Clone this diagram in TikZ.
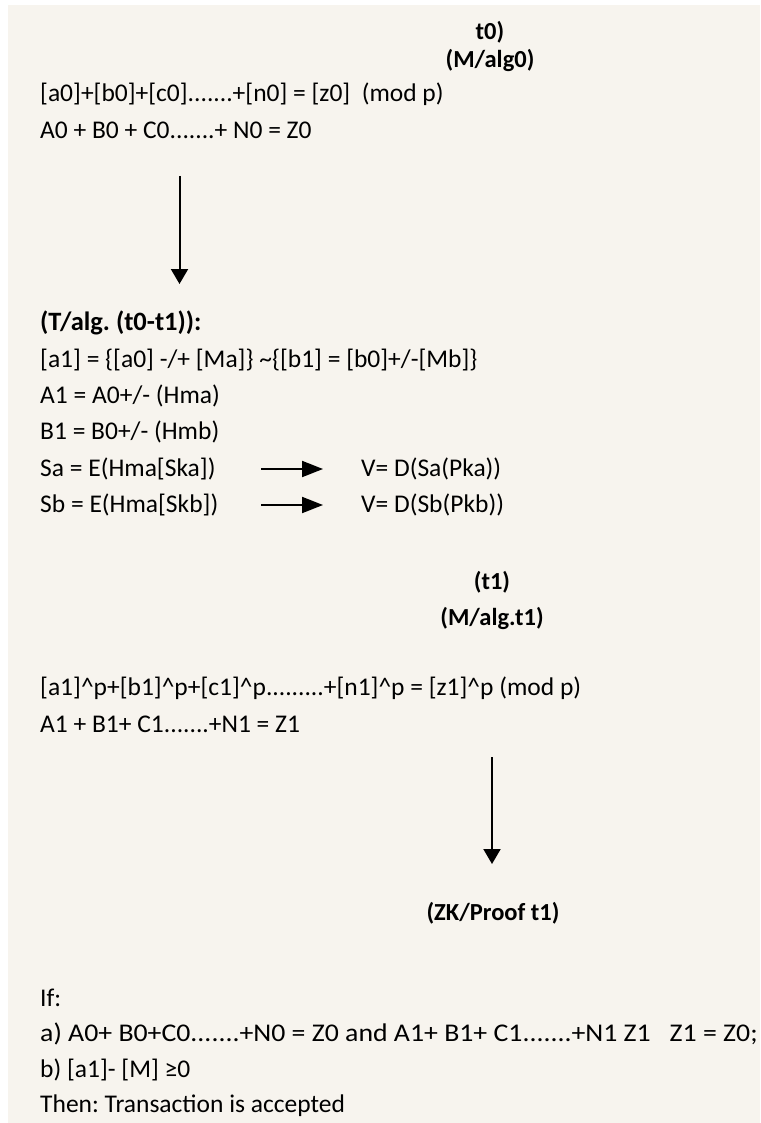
\documentclass[tikz,border=0pt]{standalone}
\usepackage{fontspec}
\setmainfont{Carlito}
\usetikzlibrary{arrows.meta}
\definecolor{cream}{HTML}{F7F4EE}
\frenchspacing
\begin{document}
\begin{tikzpicture}[x=1pt,y=-1pt,
  txt/.style={anchor=west,inner sep=0pt,font=\fontsize{25.5}{28}\selectfont},
  ttl/.style={inner sep=0pt,font=\fontsize{24.5}{28}\selectfont\bfseries},
  vline/.style={line width=2pt,-{Triangle[length=15pt,width=17pt]}},
  hline/.style={line width=2pt,-{Triangle[length=21pt,width=16pt]}}]
\useasboundingbox (0,0) rectangle (760,1123);
\fill[white] (0,0) rectangle (760,1123);
\fill[cream] (8,5) rectangle (760,1123);
% t0 block
\node[ttl] (t0) at (490,32) {t0)};
\node[ttl] (malg0) at (490,60) {(M/alg0)};
\node[txt] (eq0) at (40,94) {[a0]+[b0]+[c0].......+[n0] = [z0]\ \ (mod p)};
\node[txt] (sum0) at (40,130) {A0 + B0 + C0.......+ N0 = Z0};
\coordinate (a1s) at (179.5,176);
\coordinate (a1e) at (179.5,284);
\draw[vline] (a1s) -- (a1e);
% T block
\node[txt,font=\fontsize{26.5}{30}\selectfont\bfseries] (talg) at (40,323) {(T/alg. (t0-t1)):};
\node[txt] (a1) at (40,360) {[a1] = \{[a0] -/+ [Ma]\} \textasciitilde\{[b1] = [b0]+/-[Mb]\}};
\node[txt] (A1) at (40,396) {A1 = A0+/- (Hma)};
\node[txt] (B1) at (40,432) {B1 = B0+/- (Hmb)};
\node[txt] (Sa) at (40,469) {Sa = E(Hma[Ska])};
\node[txt] (Sb) at (40,505) {Sb = E(Hma[Skb])};
\node[txt] (Va) at (361,469) {V= D(Sa(Pka))};
\node[txt] (Vb) at (361,505) {V= D(Sb(Pkb))};
\coordinate (h1s) at (261,469);
\coordinate (h1e) at (323,469);
\coordinate (h2s) at (261,505);
\coordinate (h2e) at (323,505);
\draw[hline] (h1s) -- (h1e);
\draw[hline] (h2s) -- (h2e);
% t1 block
\node[ttl] (t1) at (492,582) {(t1)};
\node[ttl] (malg1) at (492,618) {(M/alg.t1)};
\node[txt] (eq1) at (40,688) {[a1]\textasciicircum p+[b1]\textasciicircum p+[c1]\textasciicircum p.........+[n1]\textasciicircum p = [z1]\textasciicircum p (mod p)};
\node[txt] (sum1) at (40,724) {A1 + B1+ C1.......+N1 = Z1};
\coordinate (a2s) at (492,757);
\coordinate (a2e) at (492,864);
\draw[vline] (a2s) -- (a2e);
\node[ttl] (zk) at (493,913) {(ZK/Proof t1)};
% conditions
\node[txt] (if) at (40,998) {If:};
\node[txt] (ca) at (40,1034) {\scalebox{1.09}[1]{a) A0+ B0+C0.......+N0 = Z0 and A1+ B1+ C1.......+N1 Z1\ \ \ Z1 = Z0;}};
\node[txt] (cb) at (40,1070) {b) [a1]- [M] ≥0};
\node[txt] (then) at (40,1106) {Then: Transaction is accepted};
\end{tikzpicture}
\end{document}
